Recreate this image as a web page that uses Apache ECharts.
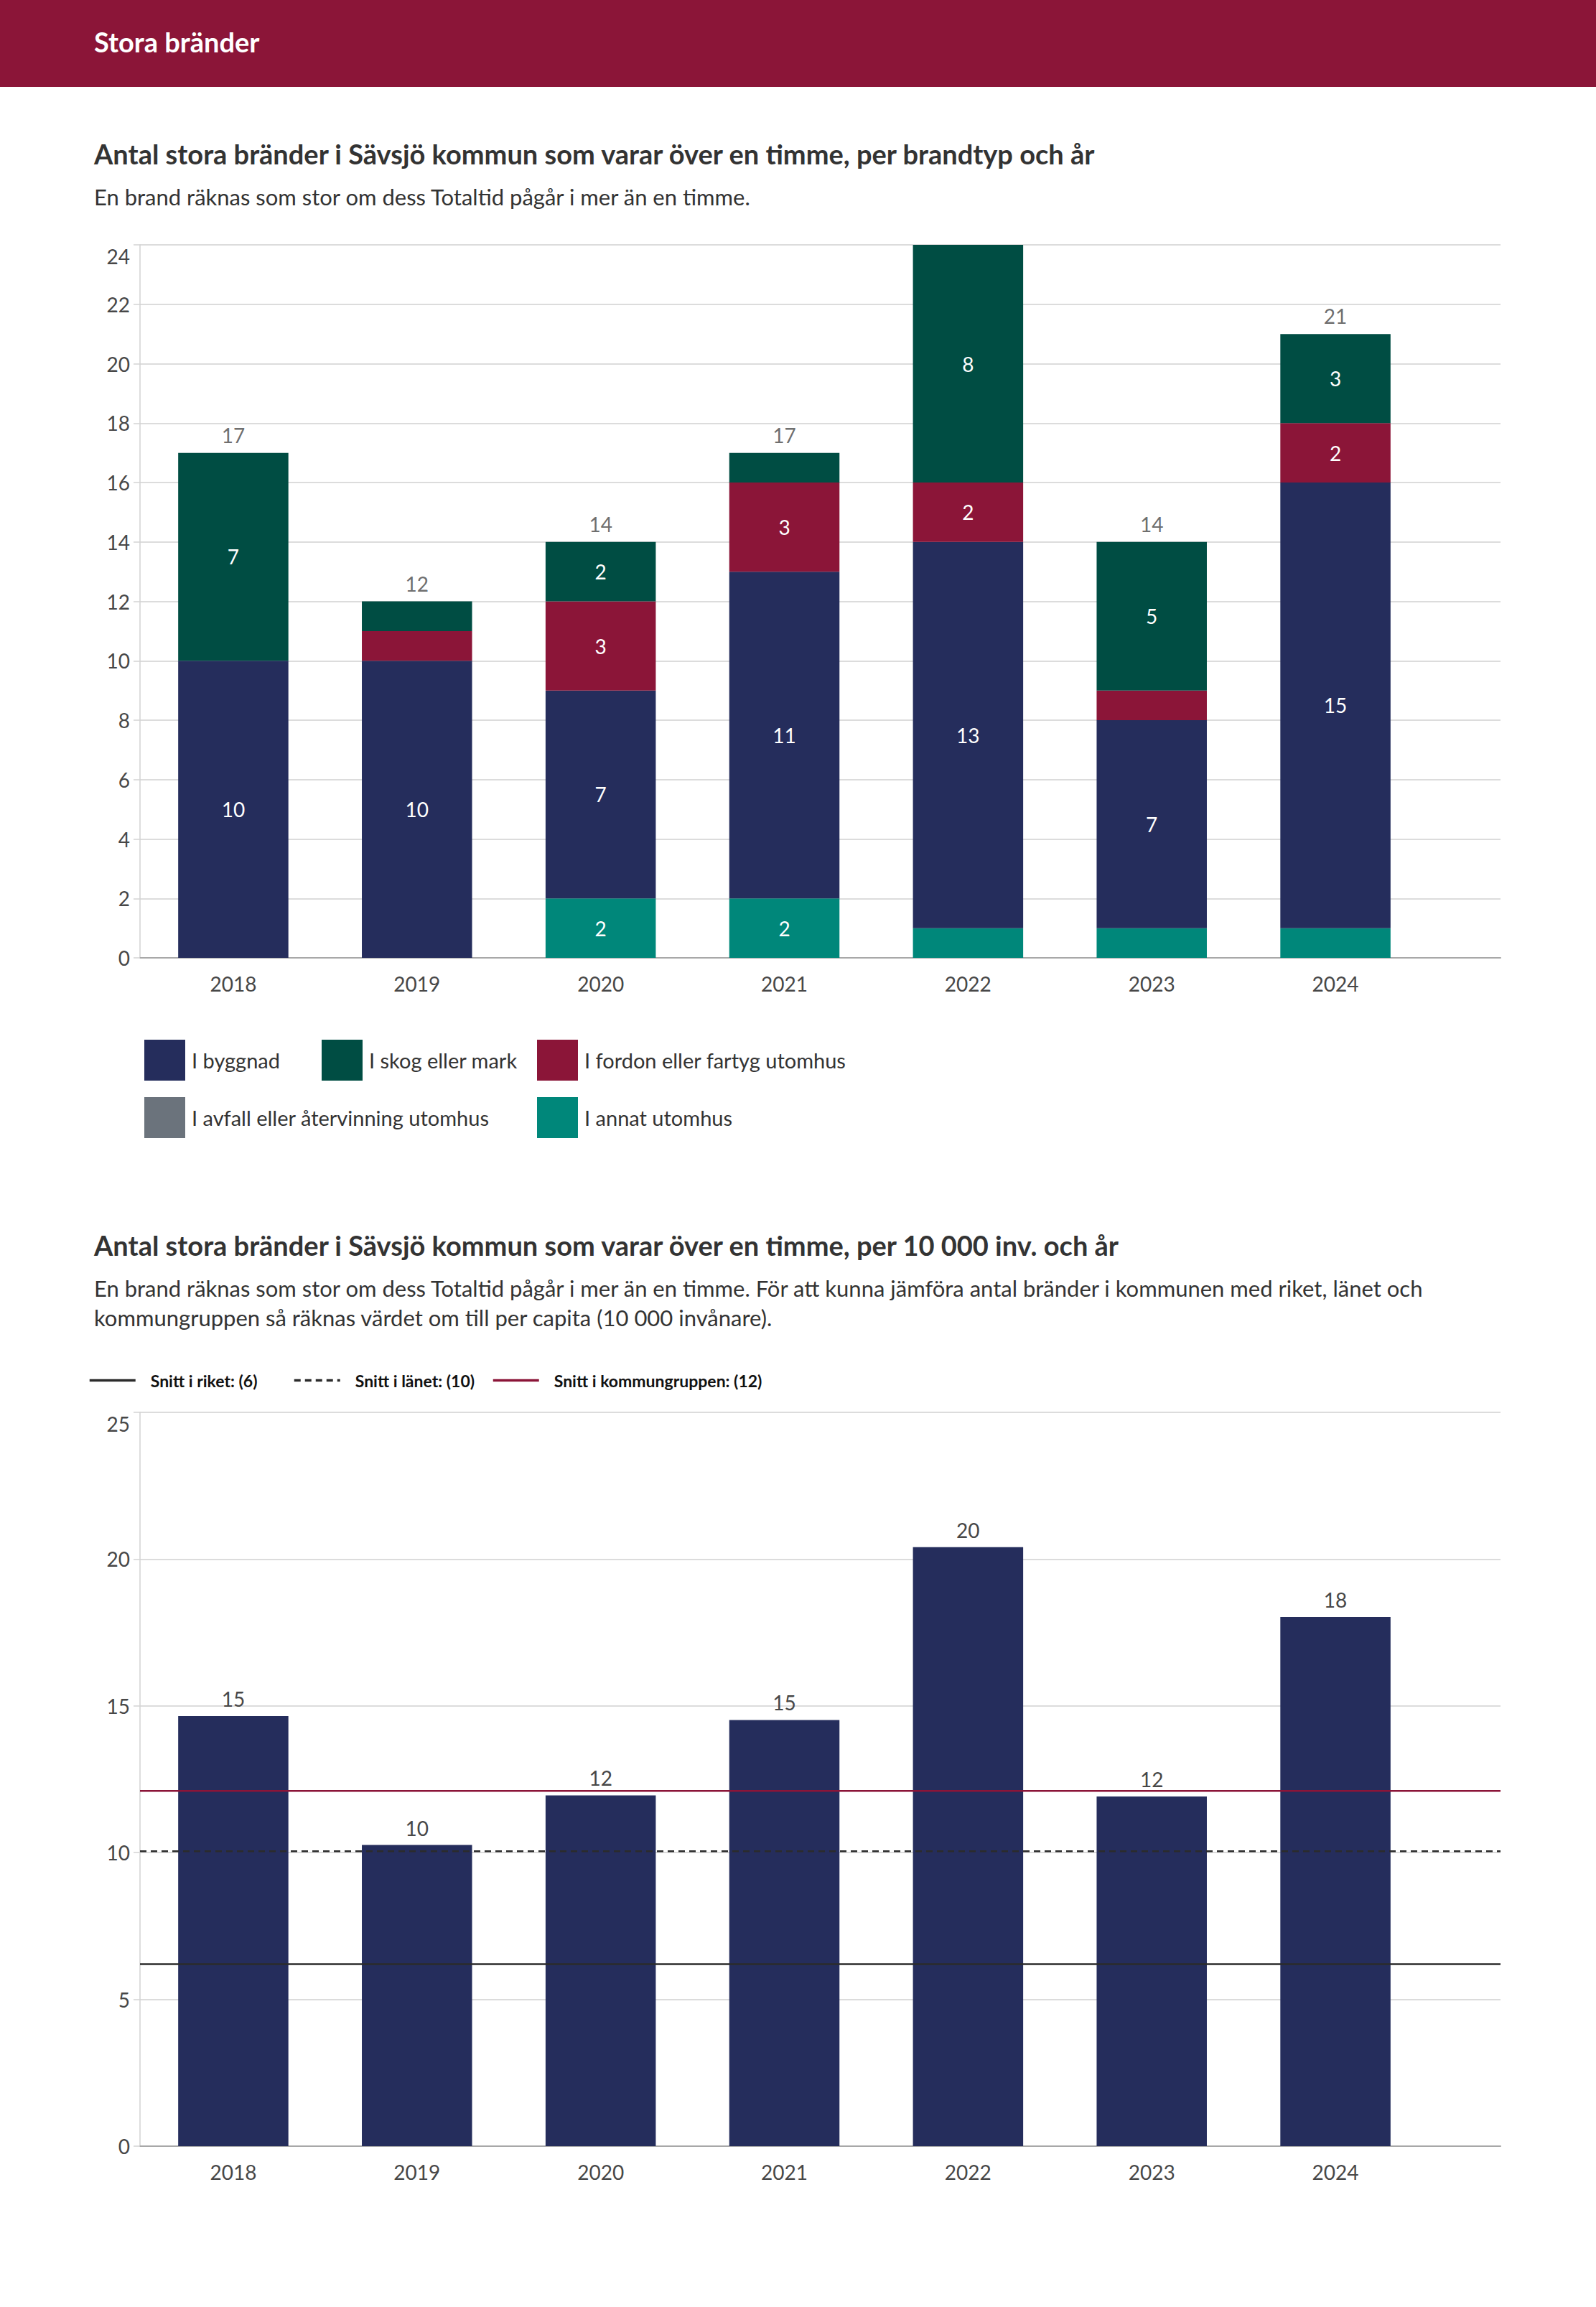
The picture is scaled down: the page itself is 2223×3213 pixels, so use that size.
<!DOCTYPE html>
<html>
<head>
<meta charset="utf-8">
<style>
html,body{margin:0;padding:0;background:#ffffff;}
#c{width:2223px;height:3213px;}
</style>
<script src="https://cdn.jsdelivr.net/npm/echarts@6/dist/echarts.min.js"></script>
</head>
<body>
<div id="c"></div>
<script>
// ---------- data ----------
const years = ['2018', '2019', '2020', '2021', '2022', '2023', '2024'];
const byggnad = [10, 10, 7, 11, 13, 7, 15];
const skog = [7, 1, 2, 1, 8, 5, 3];
const fordon = [0, 1, 3, 3, 2, 1, 2];
const avfall = [0, 0, 0, 0, 0, 0, 0];
const annat = [0, 0, 2, 2, 1, 1, 1];
const seriesNames = ['I byggnad', 'I skog eller mark', 'I fordon eller fartyg utomhus', 'I avfall eller återvinning utomhus', 'I annat utomhus'];
const perCapita = [14.65, 10.26, 11.95, 14.52, 20.41, 11.91, 18.03];
const snittRiket = 6.2;
const snittLanet = 10.05;
const snittGrupp = 12.1;
const avgNames = ['Snitt i riket: (6)', 'Snitt i länet: (10)', 'Snitt i kommungruppen: (12)'];
const y1Max = 24, y1Interval = 2;
const y2Max = 25, y2Interval = 5;

// ---------- styles ----------
const FONT = 'Lato, "Open Sans", sans-serif';
const C_NAVY = '#252d5c', C_GREEN = '#004d43', C_RED = '#8b1538', C_GREY = '#6b737c', C_TEAL = '#00877a';
const TXT = '#333333', AX = '#474747';

const totals = years.map((_, i) => byggnad[i] + skog[i] + fordon[i] + avfall[i] + annat[i]);
const pair = v => [v, v];

function maxLabel(max) {
  return {
    fontFamily: FONT, fontSize: 28, color: AX, margin: 14,
    formatter: v => (v === max ? '{mx|' + v + '}' : String(v)),
    rich: { mx: { padding: [32, 0, 0, 0], fontFamily: FONT, fontSize: 28, color: AX } }
  };
}
function lineYAxis(gi, max, interval) {
  return {
    type: 'value', gridIndex: gi, min: 0, max: max, interval: interval,
    axisLine: { show: true, lineStyle: { color: '#d3d3d3', width: 1.5 } },
    axisTick: { show: true, length: 9, lineStyle: { color: '#d3d3d3', width: 1.5 } },
    splitLine: { show: true, lineStyle: { color: '#dcdcdc', width: 2 } },
    axisLabel: maxLabel(max)
  };
}
function hiddenY(gi, max, interval) {
  return { type: 'value', gridIndex: gi, min: 0, max: max, interval: interval, show: false, splitLine: { show: false } };
}
function spanX(gi) {
  return {
    type: 'category', gridIndex: gi, data: ['a', 'b'], boundaryGap: false,
    axisLine: { show: true, onZero: true, lineStyle: { color: '#a8a8a8', width: 2 } },
    axisTick: { show: false }, axisLabel: { show: false }, splitLine: { show: false }
  };
}
function yearX(gi) {
  return {
    type: 'category', gridIndex: gi, data: years,
    axisLine: { show: false }, axisTick: { show: false }, splitLine: { show: false },
    axisLabel: { fontFamily: FONT, fontSize: 28, color: AX, margin: 22 }
  };
}
const innerLabel = {
  show: true, position: 'inside', color: '#ffffff', fontFamily: FONT, fontSize: 28,
  formatter: p => (p.value >= 2 ? String(p.value) : '')
};
function stackBar(name, data, color) {
  return {
    name: name, type: 'bar', stack: 'brand', xAxisIndex: 1, yAxisIndex: 1,
    data: data, barWidth: '60%', itemStyle: { color: color }, label: innerLabel, z: 2
  };
}
function legendSquare(name, left, top) {
  return {
    data: [name], left: left, top: top, orient: 'horizontal', icon: 'rect',
    itemWidth: 57, itemHeight: 57, selectedMode: false,
    textStyle: { fontFamily: FONT, fontSize: 29, color: TXT, padding: [0, 0, 0, 4] }
  };
}
function legendLine(name, left) {
  return {
    data: [name], left: left, top: 1906, itemWidth: 64, itemHeight: 28, selectedMode: false,
    itemStyle: { opacity: 0 },
    lineStyle: { width: 3.5 },
    textStyle: { fontFamily: FONT, fontSize: 23, fontWeight: 'bold', color: '#111', padding: [0, 0, 0, 16] }
  };
}
function avgLine(name, value, color, type) {
  return {
    name: name, type: 'line', xAxisIndex: 2, yAxisIndex: 2, data: pair(value),
    symbol: 'none', silent: true, z: 5,
    lineStyle: { color: color, width: 2.5, type: type }, itemStyle: { color: color }
  };
}

const option = {
  animation: false,
  backgroundColor: '#ffffff',
  textStyle: { fontFamily: FONT },
  graphic: [
    { type: 'rect', shape: { x: 0, y: 0, width: 2223, height: 121 }, style: { fill: C_RED }, silent: true },
    { type: 'text', x: 131, y: 58, style: { text: 'Stora bränder', fill: '#ffffff', font: 'bold 38px ' + FONT, verticalAlign: 'middle' } },
    { type: 'text', x: 131, y: 214, style: { text: 'Antal stora bränder i Sävsjö kommun som varar över en timme, per brandtyp och år', fill: TXT, font: 'bold 38px ' + FONT, verticalAlign: 'middle' } },
    { type: 'text', x: 131, y: 274, style: { text: 'En brand räknas som stor om dess Totaltid pågår i mer än en timme.', fill: TXT, font: '31px ' + FONT, verticalAlign: 'middle' } },
    { type: 'text', x: 131, y: 1734, style: { text: 'Antal stora bränder i Sävsjö kommun som varar över en timme, per 10 000 inv. och år', fill: TXT, font: 'bold 38px ' + FONT, verticalAlign: 'middle' } },
    { type: 'text', x: 131, y: 1794, style: { text: 'En brand räknas som stor om dess Totaltid pågår i mer än en timme. För att kunna jämföra antal bränder i kommunen med riket, länet och', fill: TXT, font: '31px ' + FONT, verticalAlign: 'middle' } },
    { type: 'text', x: 131, y: 1835, style: { text: 'kommungruppen så räknas värdet om till per capita (10 000 invånare).', fill: TXT, font: '31px ' + FONT, verticalAlign: 'middle' } }
  ],
  grid: [
    { left: 195, right: 133, top: 341, height: 993, outerBoundsMode: 'none', containLabel: false },
    { left: 197, width: 1791, top: 341, height: 993, outerBoundsMode: 'none', containLabel: false },
    { left: 195, right: 133, top: 1967, height: 1022, outerBoundsMode: 'none', containLabel: false },
    { left: 197, width: 1791, top: 1967, height: 1022, outerBoundsMode: 'none', containLabel: false }
  ],
  xAxis: [spanX(0), yearX(1), spanX(2), yearX(3)],
  yAxis: [
    lineYAxis(0, y1Max, y1Interval), hiddenY(1, y1Max, y1Interval),
    lineYAxis(2, y2Max, y2Interval), hiddenY(3, y2Max, y2Interval)
  ],
  legend: [
    legendSquare(seriesNames[0], 196, 1443),
    legendSquare(seriesNames[1], 443, 1443),
    legendSquare(seriesNames[2], 743, 1443),
    legendSquare(seriesNames[3], 196, 1523),
    legendSquare(seriesNames[4], 743, 1523),
    legendLine(avgNames[0], 118),
    legendLine(avgNames[1], 403),
    legendLine(avgNames[2], 680)
  ],
  series: [
    stackBar(seriesNames[4], annat, C_TEAL),
    stackBar(seriesNames[0], byggnad, C_NAVY),
    stackBar(seriesNames[2], fordon, C_RED),
    stackBar(seriesNames[3], avfall, C_GREY),
    stackBar(seriesNames[1], skog, C_GREEN),
    {
      name: 'Totalt', type: 'scatter', xAxisIndex: 1, yAxisIndex: 1, data: totals,
      symbolSize: 2, itemStyle: { color: 'rgba(0,0,0,0)' }, silent: true, z: 4,
      label: {
        show: true, position: 'top', distance: 10, color: AX, fontFamily: FONT, fontSize: 28,
        formatter: p => (p.value >= y1Max ? '' : String(p.value))
      }
    },
    {
      name: 'Per 10 000 inv.', type: 'bar', xAxisIndex: 3, yAxisIndex: 3, data: perCapita,
      barWidth: '60%', itemStyle: { color: C_NAVY }, z: 2,
      label: {
        show: true, position: 'top', distance: 10, color: AX, fontFamily: FONT, fontSize: 28,
        formatter: p => String(Math.round(p.value))
      }
    },
    avgLine(avgNames[0], snittRiket, '#2b2b2b', 'solid'),
    avgLine(avgNames[1], snittLanet, '#2b2b2b', [9, 6]),
    avgLine(avgNames[2], snittGrupp, C_RED, 'solid')
  ]
};

const chart = echarts.init(document.getElementById('c'), null, { renderer: 'svg', width: 2223, height: 3213 });
chart.setOption(option);
</script>
</body>
</html>
